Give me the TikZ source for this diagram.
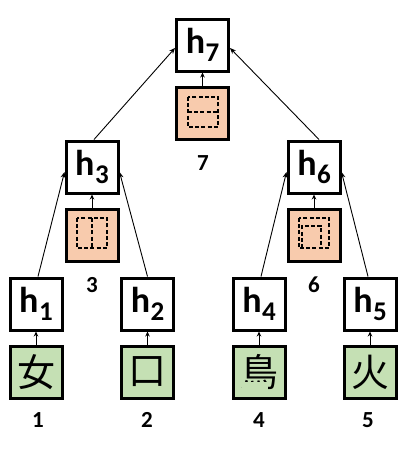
\documentclass[tikz,border=0pt]{standalone}
\usepackage{fontspec}
\setmainfont{Carlito}
\newfontfamily\cjk{Noto Sans CJK JP}
\usetikzlibrary{arrows.meta}
\definecolor{orng}{HTML}{F8CBAD}
\definecolor{grn}{HTML}{C5E0B4}
\newcommand{\hlab}[1]{{\fontsize{36}{36}\selectfont\bfseries h\kern0.5pt\raisebox{-8pt}{\fontsize{27}{27}\selectfont #1}}}
\tikzset{
  hbox/.style={draw=black, line width=3pt, fill=white, minimum size=52pt, inner sep=0pt},
  obox/.style={draw=black, line width=3pt, fill=orng, minimum size=52pt, inner sep=0pt},
  gbox/.style={draw=black, line width=3pt, fill=grn, minimum size=52pt, inner sep=0pt, font=\cjk\fontsize{38}{38}\selectfont},
  num/.style={font=\fontsize{23}{23}\selectfont\bfseries, inner sep=0pt},
  conn/.style={line width=0.9pt, -{Stealth[length=6pt,width=5pt]}},
  small/.style={line width=0.9pt, -{Stealth[length=5pt,width=4.5pt]}},
  dsh/.style={line width=1.4pt, dash pattern=on 4pt off 2.2pt}
}
\begin{document}
\begin{tikzpicture}[x=1pt,y=-1pt]
\useasboundingbox (0,0) rectangle (400,450);
% top
\node[hbox] (h7) at (202.5,45) {\hlab{7}};
\node[obox] (o7) at (202.5,113) {};
\node[num] (n7) at (203,163) {7};
% level 2
\node[hbox] (h3) at (92,167) {\hlab{3}};
\node[obox] (o3) at (92,235) {};
\node[num] (n3) at (92,285) {3};
\node[hbox] (h6) at (314,167) {\hlab{6}};
\node[obox] (o6) at (314,235) {};
\node[num] (n6) at (314,285) {6};
% level 1
\node[hbox] (h1) at (36,304) {\hlab{1}};
\node[gbox] (g1) at (36,372) {女};
\node[num] (n1) at (38,420) {1};
\node[hbox] (h2) at (147.5,304) {\hlab{2}};
\node[gbox] (g2) at (147.5,372) {口};
\node[num] (n2) at (147,420) {2};
\node[hbox] (h4) at (259,304) {\hlab{4}};
\node[gbox] (g4) at (259,372) {鳥};
\node[num] (n4) at (259,420) {4};
\node[hbox] (h5) at (370,304) {\hlab{5}};
\node[gbox] (g5) at (370,372) {火};
\node[num] (n5) at (368,420) {5};
% cover the four dots of the bird glyph
\fill[grn] (242,382) rectangle (268,395);
% small arrows
\foreach \a/\b in {o7/h7,o3/h3,o6/h6,g1/h1,g2/h2,g4/h4,g5/h5}
  \draw[small] (\a.north) -- (\b.south);
% main connectors
\draw[conn] ([xshift=2pt]h1.north) -- ([yshift=-5pt]h3.west);
\draw[conn] (h2.north) -- ([yshift=-5pt]h3.east);
\draw[conn] ([xshift=2pt]h3.north) -- ([yshift=-3pt]h7.west);
\draw[conn] ([xshift=5pt]h6.north) -- ([yshift=-3pt]h7.east);
\draw[conn] ([xshift=2pt]h4.north) -- ([yshift=-5pt]h6.west);
\draw[conn] ([xshift=-2pt]h5.north) -- ([yshift=-5pt]h6.east);
% dashed patterns
\draw[dsh] (188,97) rectangle (218,127);
\draw[dsh] (188,112) -- (218,112);
\draw[dsh] (77,218) rectangle (107,248);
\draw[dsh] (92,218) -- (92,248);
\draw[dsh] (299,218) rectangle (329,248);
\draw[dsh] (302,248) -- (302,226) -- (321,226) -- (321,248);
\end{tikzpicture}
\end{document}
